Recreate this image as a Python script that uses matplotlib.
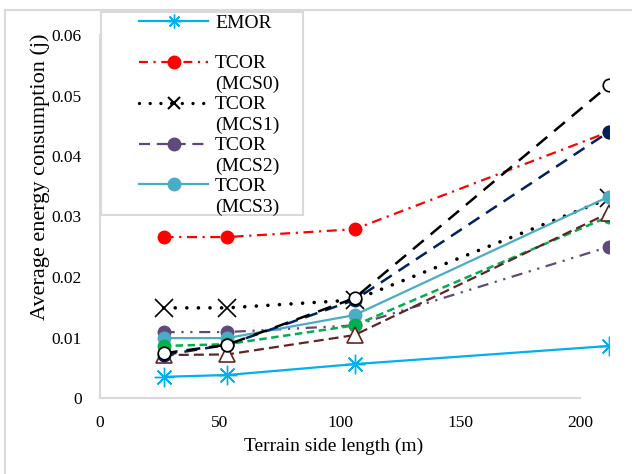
import matplotlib
matplotlib.use("Agg")
import matplotlib.pyplot as plt
from matplotlib.lines import Line2D
from matplotlib.patches import Rectangle

plt.rcParams['font.family'] = ['Liberation Serif', 'DejaVu Serif']

# data
x = [25, 50, 100, 200]
emor = [0.0035, 0.0038, 0.0056, 0.0086]
mcs0 = [0.0266, 0.0266, 0.0279, 0.0440]
mcs1 = [0.0149, 0.0149, 0.0162, 0.0330]
mcs2 = [0.0109, 0.0109, 0.0120, 0.0250]
mcs3 = [0.0099, 0.0099, 0.0137, 0.0333]
green = [0.0086, 0.0089, 0.0120, 0.0300]
brown = [0.0071, 0.0072, 0.0104, 0.0306]
navy = [0.0071, 0.0088, 0.0162, 0.0440]
black = [0.0074, 0.0088, 0.0165, 0.0517]

xticks = [0, 50, 100, 150, 200]
yticks = [0, 0.01, 0.02, 0.03, 0.04, 0.05, 0.06]
ytick_labels = ['0', '0.01', '0.02', '0.03', '0.04', '0.05', '0.06']
legend_names = ['EMOR', 'TCOR\n(MCS0)', 'TCOR\n(MCS1)', 'TCOR\n(MCS2)', 'TCOR\n(MCS3)']

W, H = 632, 474
fig = plt.figure(figsize=(W / 100, H / 100), dpi=100)
grey = '#D9D9D9'

# axis frame (ticks/labels) and data axes are slightly different widths, as in the original
bottom = (H - 398) / H
height = 363 / H
axf = fig.add_axes([100 / W, bottom, 480 / W, height])
ax = fig.add_axes([100 / W, bottom, 509 / W, height], frameon=False)

axf.set_xlim(0, 200)
axf.set_ylim(0, 0.06)
axf.set_xticks(xticks)
axf.set_yticks(yticks)
axf.set_yticklabels(ytick_labels)
axf.tick_params(length=0, labelsize=12.5)
axf.tick_params(axis='y', pad=13)
axf.tick_params(axis='x', pad=12)
for s in ['top', 'right']:
    axf.spines[s].set_visible(False)
for s in ['left', 'bottom']:
    axf.spines[s].set_color(grey)
    axf.spines[s].set_linewidth(1.5)
axf.set_xlabel('Terrain side length (m)', fontsize=14, va='center', ha='center')
axf.xaxis.set_label_coords((334 - 100) / 480, (398 - 446) / 363)
axf.set_ylabel('Average energy consumption (j)', fontsize=16, va='center', ha='center')
axf.yaxis.set_label_coords((40 - 100) / 480, (398 - 177) / 363)

ax.set_xlim(0, 200)
ax.set_ylim(0, 0.06)
ax.set_xticks([])
ax.set_yticks([])

ax.plot(x, emor, color='#00B0F0', lw=1.6, marker=(8, 2, 0), ms=14, mew=1.0)
ax.plot(x, mcs0, color='#FF0000', lw=1.6, ls=(0, (4.5, 2.5, 1, 2.5)), marker='o', ms=9)
ax.plot(x, mcs1, color='black', lw=2.6, ls=(0, (0.01, 3.2)), dash_capstyle='round',
        marker='x', ms=13, mew=1.2)
ax.plot(x, mcs2, color='#604A7B', lw=1.6, ls=(0, (5, 3, 1, 3, 1, 3)), marker='o', ms=9)
ax.plot(x, mcs3, color='#4BACC6', lw=1.6, marker='o', ms=9)
ax.plot(x, green, color='#00B050', lw=1.8, ls=(0, (3, 1.8)), marker='o', ms=9)
ax.plot(x, brown, color='#632523', lw=1.6, ls=(0, (4.5, 2.3)), marker='^', ms=12,
        mfc='white', mec='#632523', mew=1.2)
ax.plot(x, navy, color='#002060', lw=1.8, ls=(0, (5.2, 3.2)), marker='o', ms=9)
ax.plot(x, black, color='black', lw=1.8, ls=(0, (5.6, 3.6)), marker='o', ms=9,
        mfc='white', mec='black', mew=1.2)

# legend: handle sits on the first line of each entry
blank = Line2D([], [], ls='none')
handles = [
    Line2D([], [], color='#00B0F0', lw=1.6, marker=(8, 2, 0), ms=10, mew=1.0),
    Line2D([], [], color='#FF0000', lw=1.6, ls=(0, (4, 2.5, 1, 2.5)), marker='o', ms=9),
    Line2D([], [], color='black', lw=2.4, ls=(0, (0.01, 3.2)), dash_capstyle='round',
           marker='x', ms=8, mew=1.5),
    Line2D([], [], color='#604A7B', lw=1.6, ls=(0, (5, 3)), marker='o', ms=9),
    Line2D([], [], color='#4BACC6', lw=1.6, marker='o', ms=9),
]
leg_h, leg_l = [], []
for h, name in zip(handles, legend_names):
    lines = name.split('\n')
    leg_h.append(h)
    leg_l.append(lines[0])
    leg_h.append(blank)
    leg_l.append(lines[1] if len(lines) > 1 else ' ')

box = Rectangle((101 / W, (H - 215) / H), 202 / W, 203 / H, transform=fig.transFigure,
                facecolor='white', edgecolor=grey, lw=1.5, zorder=4, clip_on=False)
ax.add_patch(box)
leg = ax.legend(leg_h, leg_l, loc='upper left', bbox_to_anchor=(139 / W, (H - 14) / H),
                bbox_transform=fig.transFigure, frameon=False, fontsize=14,
                handlelength=3.55, handletextpad=0.36, labelspacing=0.145,
                borderpad=0, borderaxespad=0)
leg.set_zorder(5)

# outer chart border
fig.patches.append(Rectangle((5 / W, -0.01), 1.0, (H - 10) / H + 0.01,
                             transform=fig.transFigure, fill=False,
                             edgecolor=grey, lw=1.5))

fig.savefig('out.png', dpi=100)
